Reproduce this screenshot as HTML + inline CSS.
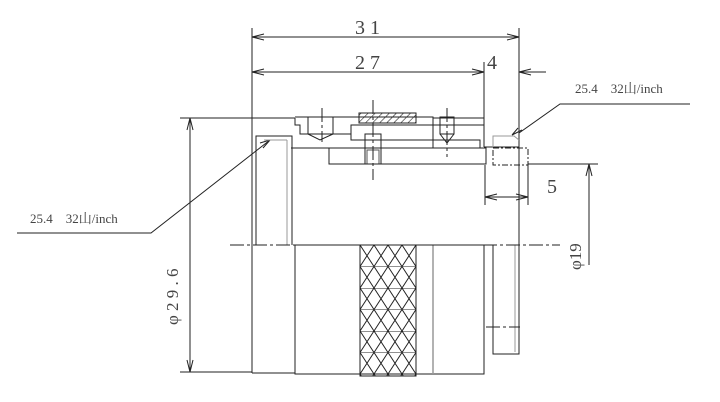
<!DOCTYPE html>
<html><head><meta charset="utf-8"><style>
html,body{margin:0;padding:0;background:#fff;}
svg{display:block;}
text{font-family:"Liberation Serif","Noto Serif CJK SC",serif;fill:#444;}
</style></head><body>
<svg width="720" height="402" viewBox="0 0 720 402" xmlns="http://www.w3.org/2000/svg">
<defs>
<pattern id="h" width="5" height="5" patternUnits="userSpaceOnUse" patternTransform="rotate(45)">
<line x1="0" y1="0" x2="0" y2="5" stroke="#222" stroke-width="1.2"/>
</pattern>
<pattern id="k" x="360" y="245" width="14" height="21.5" patternUnits="userSpaceOnUse">
<path d="M0 0 L14 21.5 M14 0 L0 21.5 M0 0 H14" stroke="#222" stroke-width="1" fill="none"/>
</pattern>
</defs>
<g stroke="#222" stroke-width="1" fill="none">
<line x1="252" y1="28" x2="252" y2="118"/>
<line x1="519" y1="28" x2="519" y2="147"/>
<line x1="252" y1="37" x2="519" y2="37"/>
<path d="M264 34 L252 37 L264 40 M507 34 L519 37 L507 40"/>
<line x1="252" y1="72" x2="484" y2="72"/>
<line x1="484" y1="62" x2="484" y2="147"/>
<path d="M264 69 L252 72 L264 75 M472 69 L484 72 L472 75"/>
<line x1="519" y1="72" x2="546" y2="72"/>
<path d="M531 69 L519 72 L531 75"/>
<polyline points="519,133 560,104 690,104"/>
<path d="M512 135 L522 130 M512 135 L518 128"/>
<polyline points="17,233 151,233 270,140"/>
<path d="M270 140 L260 143 M270 140 L263 148"/>
<line x1="180" y1="118" x2="252" y2="118"/>
<line x1="180" y1="372" x2="252" y2="372"/>
<line x1="190" y1="118" x2="190" y2="372"/>
<path d="M187 130 L190 118 L193 130 M187 360 L190 372 L193 360"/>
<line x1="528" y1="164" x2="598" y2="164"/>
<line x1="589" y1="164" x2="589" y2="265"/>
<path d="M586 176 L589 164 L592 176"/>
<line x1="485" y1="165" x2="485" y2="205"/>
<line x1="528" y1="165" x2="528" y2="205"/>
<line x1="485" y1="197" x2="528" y2="197"/>
<path d="M497 194 L485 197 L497 200 M516 194 L528 197 L516 200"/>
<line x1="252" y1="118" x2="252" y2="373"/>
<line x1="252" y1="118" x2="295" y2="118"/>
<line x1="433" y1="118" x2="484" y2="118"/>
<line x1="252" y1="373" x2="295" y2="373"/>
<polyline points="256,245 256,136 292,136 292,245"/>
<line x1="287" y1="140" x2="287" y2="245" stroke="#999"/>
<line x1="264" y1="140" x2="287" y2="140" stroke="#999"/>
<line x1="291" y1="148" x2="329" y2="148"/>
<rect x="295" y="245" width="189" height="129"/>
<rect x="360" y="245" width="56" height="131" fill="url(#k)" stroke="#222"/>
<line x1="433" y1="245" x2="433" y2="374" stroke="#999" stroke-width="1.5"/>
<polyline points="295,118 295,125 300,125 300,134 351,134 351,125 433,125 433,117 295,117"/>
<rect x="359" y="113" width="57" height="10" fill="url(#h)"/>
<polyline points="351,134 351,140 480,140 480,148"/>
<rect x="308" y="117" width="25" height="17"/>
<path d="M308 134 L320 140 L333 134"/>
<rect x="365" y="134" width="16" height="30"/>
<rect x="367" y="150" width="12" height="14" stroke="#555"/>
<rect x="440" y="117" width="14" height="17"/>
<path d="M440 134 L447 143 L454 134"/>
<line x1="433" y1="125" x2="484" y2="125"/>
<line x1="433" y1="125" x2="433" y2="148"/>
<rect x="329" y="148" width="157" height="16"/>
<polyline points="484,147 519,147 519,354 493,354 493,245"/>
<polyline points="493,147 493,136 514,136 519,140" stroke="#999"/>
<line x1="515" y1="245" x2="515" y2="352" stroke="#999"/>
<line x1="484" y1="245" x2="493" y2="245"/>
<rect x="493" y="148" width="35" height="17" stroke-dasharray="6,2,2,2"/>
<g stroke-dasharray="14,3,3,3">
<line x1="230" y1="245" x2="560" y2="245"/>
<line x1="373" y1="100" x2="373" y2="180"/>
<line x1="322" y1="108" x2="322" y2="142"/>
<line x1="447" y1="108" x2="447" y2="157"/>
<line x1="486" y1="327" x2="520" y2="327"/>
</g>
</g>
<g font-size="20" font-family="Liberation Sans,sans-serif">
<text x="355" y="34">3 1</text>
<text x="355" y="69">2 7</text>
<text x="487" y="69">4</text>
<text x="547" y="193">5</text>
</g>
<text x="575" y="93" font-size="13">25.4　32山/inch</text>
<text x="30" y="223" font-size="13">25.4　32山/inch</text>
<text transform="translate(178,325) rotate(-90)" font-size="17" font-family="Liberation Sans,sans-serif">φ 2 9 . 6</text>
<text transform="translate(581,270) rotate(-90)" font-size="17" font-family="Liberation Sans,sans-serif">φ19</text>
</svg>
</body></html>
